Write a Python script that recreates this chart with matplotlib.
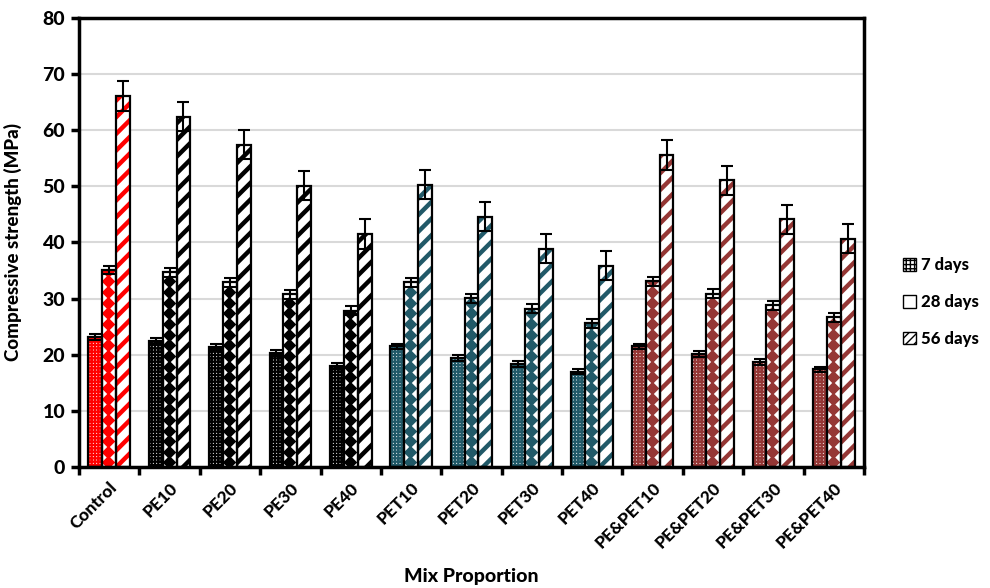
import numpy as np
import matplotlib
matplotlib.use("Agg")
import matplotlib.pyplot as plt
from matplotlib.patches import Patch

mixes = ["Control", "PE10", "PE20", "PE30", "PE40", "PET10", "PET20", "PET30",
         "PET40", "PE&PET10", "PE&PET20", "PE&PET30", "PE&PET40"]
days_7 = [23.2, 22.5, 21.4, 20.3, 18.0, 21.5, 19.4, 18.3, 17.0, 21.5, 20.1, 18.7, 17.4]
days_28 = [35.1, 34.7, 32.9, 30.8, 27.8, 32.9, 30.1, 28.2, 25.6, 33.1, 30.9, 28.8, 26.7]
days_56 = [66.1, 62.4, 57.4, 50.1, 41.5, 50.3, 44.6, 38.9, 35.9, 55.6, 51.1, 44.1, 40.7]
err_7 = [0.5] * 13
err_28 = [0.8] * 13
err_56 = [2.6] * 13
series_labels = ["7 days", "28 days", "56 days"]

group_colors = (["#FF0000"] + ["#000000"] * 4 + ["#215968"] * 4 + ["#953735"] * 4)

HEAVY = 900
plt.rcParams["font.family"] = ["Lato", "DejaVu Sans"]
plt.rcParams["font.weight"] = HEAVY

fig = plt.figure(figsize=(9.9, 5.88), dpi=100)
ax = fig.add_axes([0.0798, 0.2058, 0.7929, 0.7636])

x = np.arange(len(mixes))
w = 0.23
offsets = [-w, 0.0, w]

ax.set_axisbelow(True)
ax.yaxis.grid(True, color="#D9D9D9", linewidth=1.5)

for k, (vals, errs) in enumerate(zip([days_7, days_28, days_56], [err_7, err_28, err_56])):
    xs = x + offsets[k]
    for i in range(len(mixes)):
        c = group_colors[i]
        if k == 0:
            with plt.rc_context({"hatch.linewidth": 1.6}):
                ax.bar(xs[i], vals[i], w, facecolor="white", edgecolor=c,
                       linewidth=0, hatch="+++++", zorder=2)
        elif k == 1:
            bg = ax.bar(xs[i], vals[i], w, facecolor="white", edgecolor="none",
                        linewidth=0, zorder=2)[0]
            ys = np.arange(0.8, vals[i], 1.9)
            sc = ax.scatter(np.full_like(ys, xs[i] - 0.015), ys, marker="D", s=48,
                            color=c, linewidths=0, zorder=2.5)
            sc.set_clip_path(bg)
        else:
            with plt.rc_context({"hatch.linewidth": 3.2}):
                ax.bar(xs[i], vals[i], w, facecolor="white", edgecolor=c,
                       linewidth=0, hatch="//", zorder=2)
    ax.bar(xs, vals, w, fill=False, edgecolor="black", linewidth=1.6, zorder=3)
    ax.errorbar(xs, vals, yerr=errs, fmt="none", ecolor="black", elinewidth=1.5,
                capsize=4, capthick=1.5, zorder=4)

ax.set_xlim(-0.5, len(mixes) - 0.5)
ax.set_ylim(0, 80)
ax.set_yticks(np.arange(0, 81, 10))
ax.set_xticks(x)
ax.set_xticklabels(mixes, rotation=45, ha="right", va="top",
                   rotation_mode="anchor", fontsize=12.5, fontweight=HEAVY)
ax.set_xticks(np.arange(-0.5, len(mixes) + 0.5, 1), minor=True)
ax.tick_params(axis="x", which="major", length=0, pad=9)
ax.tick_params(axis="x", which="minor", length=6, width=2.5, direction="out")
ax.tick_params(axis="y", length=6, width=2.5, labelsize=14, direction="out", pad=4)
for lab in ax.get_yticklabels():
    lab.set_fontweight(HEAVY)
for sp in ax.spines.values():
    sp.set_linewidth(2.5)
    sp.set_color("black")

ax.set_ylabel("Compressive strength (MPa)", fontsize=13.5, fontweight=HEAVY)
ax.yaxis.set_label_coords(-0.072, 0.5)
ax.set_xlabel("Mix Proportion", fontsize=14, fontweight=HEAVY)
ax.xaxis.set_label_coords(0.5, -0.245)
ax.xaxis.label.set_va("center")

handles = [
    Patch(facecolor="white", edgecolor="black", hatch="++++", linewidth=1),
    Patch(facecolor="white", edgecolor="black", linewidth=1),
    Patch(facecolor="white", edgecolor="black", hatch="////", linewidth=1),
]
fig.legend(handles, series_labels, loc="center left", bbox_to_anchor=(0.897, 0.486),
           frameon=False, handlelength=0.75, handleheight=0.75,
           handletextpad=0.3, labelspacing=1.25, prop={"weight": HEAVY, "size": 12})

fig.savefig("out.png", dpi=100)
